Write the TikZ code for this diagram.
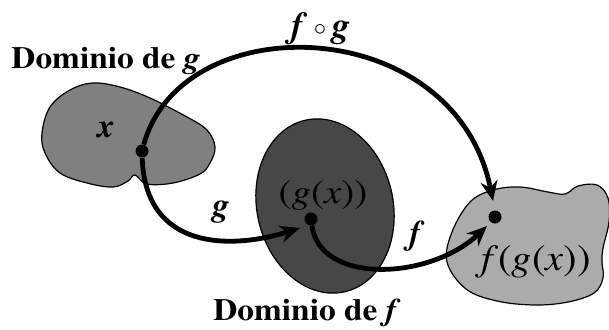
\documentclass[tikz,border=0pt]{standalone}
\usepackage{fontspec}
\usepackage{graphicx}
\IfFontExistsTF{texgyretermes-regular.otf}{%
  \setmainfont{texgyretermes}[Extension=.otf, UprightFont=*-regular, BoldFont=*-bold, ItalicFont=*-italic, BoldItalicFont=*-bolditalic]%
}{%
  \setmainfont{Liberation Serif}%
}
\usetikzlibrary{arrows.meta}
\definecolor{blobA}{HTML}{808080}
\definecolor{blobB}{HTML}{474747}
\definecolor{blobC}{HTML}{ABABAB}
\tikzset{
  blob/.style={draw=black, line width=1.2bp},
  maparrow/.style={line width=4.8bp, -{Stealth[length=20bp,width=17bp]}},
  pt/.style={circle, fill=black, inner sep=0pt, minimum size=13bp},
  title/.style={font=\fontsize{31}{34}\selectfont\bfseries, inner sep=0pt, anchor=base},
  mlbl/.style={font=\fontsize{34}{38}\selectfont, inner sep=0pt}
}
\newcommand{\bi}[1]{\textbf{\textit{#1}}}
\begin{document}
\begin{tikzpicture}[x=1bp,y=-1bp]
\useasboundingbox (0,0) rectangle (609,329);
% left blob (domain of g)
\draw[blob, fill=blobA] plot[smooth cycle, tension=0.6] coordinates {
 (42,133) (50,107) (70,90) (93,83) (120,87) (150,98) (187,117) (207,130)
 (215,147) (210,163) (200,174) (173,183) (147,184) (135,175) (128,181)
 (113,187) (87,183) (60,173) (45,153)};
% middle blob (domain of f)
\draw[blob, fill=blobB, rotate around={13:(325,206)}] (325,206) ellipse [x radius=68, y radius=88];
% right blob
\draw[blob, fill=blobC] plot[smooth cycle, tension=0.6] coordinates {
 (447,262) (452,232) (470,202) (493,190) (520,187) (548,192) (565,194)
 (578,186) (597,185) (608,198) (609,222) (603,248) (602,262) (603,278)
 (594,293) (568,302) (535,305) (497,301) (466,289)};
% points
\node[pt] (x) at (142,151) {};
\node[pt] (gx) at (311,219) {};
\node[pt] (fgx) at (495,217) {};
\coordinate (topend) at (493,201);
\coordinate (gend) at (300,228);
\coordinate (fend) at (487,226);
% connectors
\draw[maparrow] (x) .. controls (182,5) and (455,12) .. (topend);
\draw[maparrow] (x) .. controls (145,250) and (230,250) .. (gend);
\draw[maparrow] (gx) .. controls (320,285) and (430,280) .. (fend);
% labels
\node[title] (domg) at (106,68) {\scalebox{1.08}[1]{Dominio de \textit{g}}};
\node[title] (domf) at (307,320) {\scalebox{1.08}[1]{Dominio de \textit{f}}};
\node[mlbl, font=\fontsize{36}{40}\selectfont] (comp) at (321,29) {\bi{f}\,\raisebox{2bp}{$\circ$}\,\bi{g}};
\node[mlbl] (xl) at (106,130) {\bi{x}};
\node[mlbl] (gl) at (221,212) {\bi{g}};
\node[mlbl] (fl) at (417,236) {\bi{f}};
\node[mlbl] (gxl) at (323,196) {\scalebox{1.15}[1]{(\textit{g}(\textit{x}))}};
\node[mlbl, font=\fontsize{37}{40}\selectfont] (fgxl) at (536,262) {\scalebox{1.1}[1]{\textit{f}(\textit{g}(\textit{x}))}};
\end{tikzpicture}
\end{document}
